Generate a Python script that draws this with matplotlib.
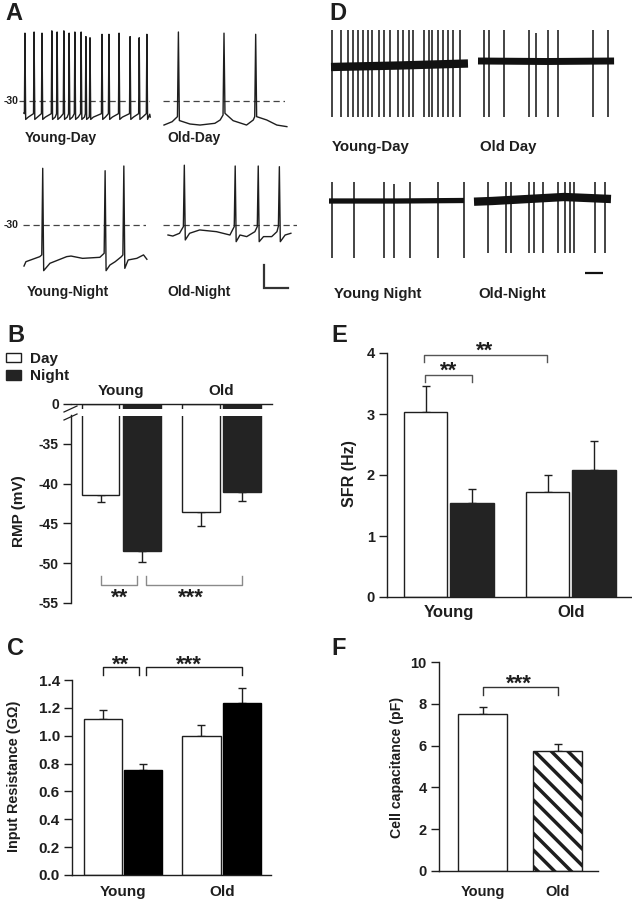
import numpy as np
import matplotlib
matplotlib.use('Agg')
import matplotlib.pyplot as plt
from matplotlib.lines import Line2D
from matplotlib.patches import Patch

plt.rcParams['font.family'] = ['Liberation Sans', 'DejaVu Sans']
plt.rcParams['font.weight'] = 'bold'
plt.rcParams['hatch.linewidth'] = 2.5

W, H = 632, 899
fig = plt.figure(figsize=(W / 100, H / 100), dpi=100)
INK = '#1e1e1e'
DARK = '#232323'

# ======================= DATA =======================
# ---- Panel A: current-clamp traces (time in s, Vm in mV) ----
a_yd_spk_t = [0.02, 0.21, 0.375, 0.58, 0.69, 0.83, 0.94, 1.06, 1.19, 1.29, 1.375,
              1.625, 1.77, 1.98, 2.21, 2.40, 2.56]
a_yd_spk_v = [29, 30, 29, 31, 30, 31, 29, 30, 30, 26, 25, 28, 28, 29, 26, 25, 28]
a_yd_thr, a_yd_ahp, a_yd_mid = -41.0, -46.0, -44.0
a_yd_start, a_yd_end = (0.0, -40.5), (2.62, -41.5)

a_od_base_t = [0.0, 0.17, 0.28, 0.32, 0.54, 0.75, 1.06, 1.17, 1.23, 1.27, 1.44, 1.72,
               1.86, 1.89, 1.93, 2.14, 2.35, 2.56]
a_od_base_v = [-50.9, -48.0, -43.6, -47.0, -50.0, -50.9, -49.4, -46.5, -42.2, -40.7,
               -47.1, -50.9, -46.5, -43.6, -43.6, -46.5, -50.9, -52.3]
a_od_spk_t = [0.30, 1.25, 1.91]
a_od_spk_v = [30, 29, 28]

a_yn_base_t = [0.0, 0.04, 0.33, 0.37, 0.41, 0.54, 0.89, 0.98, 1.22, 1.58, 1.67, 1.71,
               1.79, 1.90, 2.03, 2.06, 2.10, 2.17, 2.35, 2.49, 2.56]
a_yn_base_v = [-65.7, -61.9, -57.5, -56.0, -69.7, -63.3, -57.5, -57.0, -59.0, -58.1,
               -54.6, -69.7, -64.8, -61.9, -57.5, -56.0, -67.7, -60.4, -59.0, -56.0, -59.8]
a_yn_spk_t = [0.39, 1.69, 2.08]
a_yn_spk_v = [19.3, 17.2, 21.3]

a_on_base_t = [0.0, 0.10, 0.24, 0.32, 0.36, 0.45, 0.66, 1.01, 1.29, 1.38, 1.42, 1.50,
               1.64, 1.81, 1.86, 1.90, 1.99, 2.16, 2.27, 2.30, 2.34, 2.44, 2.56]
a_on_base_v = [-38.7, -39.6, -37.2, -31.4, -43.0, -37.2, -34.3, -35.8, -38.7, -31.4,
               -44.5, -38.7, -40.1, -35.8, -31.4, -44.5, -40.1, -40.1, -35.8, -31.0,
               -44.5, -38.7, -37.2]
a_on_spk_t = [0.34, 1.40, 1.88, 2.32]
a_on_spk_v = [22.0, 21.3, 21.3, 20.7]
a_ref_mv = -30
a_scalebar_t, a_scalebar_mv = 0.5, 20

# ---- Panel D: cell-attached recordings (time in s, amplitude a.u.) ----
d_yd_spk_t = [0.06, 0.56, 0.94, 1.22, 1.50, 1.78, 2.06, 2.28, 2.67, 2.94, 3.28, 3.72,
              4.00, 4.33, 4.56, 5.17, 5.44, 5.61, 5.94, 6.22, 6.50, 6.78, 7.17]
d_yd_up, d_yd_down = 37, -50
d_yd_base_t, d_yd_base_v = [0.0, 3.8, 7.61], [0.0, 1.5, 3.5]

d_od_spk_t = [0.35, 0.59, 1.46, 2.82, 3.22, 3.91, 4.43, 6.41, 7.21]
d_od_up = [31, 31, 31, 31, 28, 31, 31, 31, 31]
d_od_down = -56
d_od_base_t, d_od_base_v = [0.0, 3.8, 7.56], [0.0, -0.5, 0.0]

d_yn_spk_t = [0.17, 1.38, 3.06, 3.59, 4.52, 6.04, 7.52]
d_yn_up = [19, 19, 19, 17, 19, 19, 19]
d_yn_down = -57
d_yn_base_t, d_yn_base_v = [0.0, 3.8, 7.5], [0.0, 0.0, 0.5]

d_on_spk_t = [0.76, 1.78, 2.06, 3.07, 3.35, 3.82, 4.65, 5.06, 5.33, 5.57, 6.74, 7.29]
d_on_up, d_on_down = 18, -53
d_on_base_t, d_on_base_v = [0.0, 1.0, 3.5, 5.0, 7.61], [-1.7, -1.0, 1.5, 3.0, 1.0]
d_scalebar_t = 1.0

# ---- Bar panels ----
groups = ['Young', 'Old']
rmp_day = [-41.46, -43.6]
rmp_day_err = [-42.3, -45.3]
rmp_night = [-48.5, -41.0]
rmp_night_err = [-49.9, -42.2]
rmp_ticks = [0, -35, -40, -45, -50, -55]

rin_day = [1.118, 0.998]
rin_day_err = [1.185, 1.077]
rin_night = [0.754, 1.233]
rin_night_err = [0.80, 1.34]

sfr_day = [3.04, 1.72]
sfr_day_err = [3.46, 2.00]
sfr_night = [1.54, 2.08]
sfr_night_err = [1.77, 2.56]

cap_vals = [7.50, 5.72]
cap_err = [7.86, 6.06]

# significance brackets: (x_left, x_right, y_line, y_leg, y_text, x_text, label)
b_sig = [(-0.205, 0.160, -52.74, -51.61, -55.08, -0.012, '**'),
         (0.244, 1.207, -52.74, -51.61, -55.08, 0.693, '***')]
c_sig = [(-0.209, 0.157, 1.495, 1.436, 1.464, -0.026, '**'),
         (0.231, 1.206, 1.495, 1.436, 1.464, 0.671, '***')]
e_sig = [(-0.195, 0.191, 3.639, 3.525, 3.610, 0.0, '**'),
         (-0.203, 0.805, 3.967, 3.852, 3.938, 0.291, '**')]
f_sig = [(0.0, 1.0, 8.818, 8.421, 8.68, 0.49, '***')]


# ======================= HELPERS =======================
def px_axes(x0, y0, x1, y1):
    return fig.add_axes([x0 / W, 1 - y1 / H, (x1 - x0) / W, (y1 - y0) / H])


def ftext(x, y, s, **kw):
    kw.setdefault('color', INK)
    return fig.text(x / W, 1 - y / H, s, **kw)


def trace_axes(x0, y0, x1, y1, t0_px, ref_px, ref_val, pps, ppu):
    ax = px_axes(x0, y0, x1, y1)
    ax.set_xlim((x0 - t0_px) / pps, (x1 - t0_px) / pps)
    ax.set_ylim(ref_val - (y1 - ref_px) / ppu, ref_val + (ref_px - y0) / ppu)
    ax.axis('off')
    return ax


def merge(bt, bv, st, sv):
    t = np.concatenate([np.asarray(bt, float), np.asarray(st, float)])
    v = np.concatenate([np.asarray(bv, float), np.asarray(sv, float)])
    o = np.argsort(t, kind='stable')
    return t[o], v[o]


def draw_vm(ax, t, v):
    ax.axhline(a_ref_mv, color='#444444', lw=0.9, ls=(0, (5, 3)), zorder=1)
    ax.plot(t, v, color=INK, lw=1.0, clip_on=False, zorder=2)


def draw_unit(ax, bt, bv, st, up, down, band_lw):
    ax.plot(bt, bv, color='#111111', lw=band_lw, solid_capstyle='butt', zorder=2)
    ax.vlines(st, down, up, color='#111111', lw=1.1, zorder=3)


def style_bar_axes(ax, fs):
    for s in ['top', 'right']:
        ax.spines[s].set_visible(False)
    for s in ['left', 'bottom', 'top']:
        ax.spines[s].set_linewidth(1.0)
        ax.spines[s].set_color(INK)
    ax.tick_params(axis='y', direction='out', length=5.8, width=1.0, colors=INK,
                   labelsize=fs, pad=3)
    ax.tick_params(axis='x', length=0, colors=INK)


def sig(ax, specs, color, fs=16):
    for xl, xr, yl, yg, yt, xt, lab in specs:
        ax.plot([xl, xl, xr, xr], [yg, yl, yl, yg], color=color, lw=1.0,
                clip_on=False, zorder=5)
        ax.text(xt, yt, lab, ha='center', va='baseline', fontsize=fs,
                fontweight='bold', color=INK, clip_on=False)


def paired_bars(ax, x, off, width, day, day_err, night, night_err, night_color,
                bottom=0.0, down=False, cap=2.8):
    x = np.asarray(x, float)
    day = np.asarray(day); night = np.asarray(night)
    ax.bar(x - off, day - bottom, bottom=bottom, width=width, facecolor='white',
           edgecolor=INK, lw=1.0, zorder=2)
    ax.bar(x + off, night - bottom, bottom=bottom, width=width, facecolor=night_color,
           edgecolor=night_color, lw=1.0, zorder=2)
    for xs, v, e in [(x - off, day, day_err), (x + off, night, night_err)]:
        d = np.abs(np.asarray(e) - v)
        yerr = [d, np.zeros_like(d)] if down else [np.zeros_like(d), d]
        ax.errorbar(xs, v, yerr=yerr, fmt='none', ecolor=INK, elinewidth=1.0,
                    capsize=cap, capthick=1.0, zorder=1)


# ======================= PANEL A =======================
ftext(5, 20, 'A', fontsize=17, fontweight='bold', va='baseline')
PPS_A, PPU_A = 48, 1.15

ax = trace_axes(19, 25, 150, 135, 24, 101, a_ref_mv, PPS_A, PPU_A)
bt, bv = [a_yd_start[0]], [a_yd_start[1]]
for s in a_yd_spk_t:
    bt += [s - 0.012, s + 0.015, s + 0.07]
    bv += [a_yd_thr, a_yd_ahp, a_yd_mid]
bt.append(a_yd_end[0]); bv.append(a_yd_end[1])
draw_vm(ax, *merge(bt, bv, a_yd_spk_t, a_yd_spk_v))

ax = trace_axes(163, 25, 285, 135, 164, 101, a_ref_mv, PPS_A, PPU_A)
draw_vm(ax, *merge(a_od_base_t, a_od_base_v, a_od_spk_t, a_od_spk_v))

ax = trace_axes(23, 150, 146, 285, 24, 225, a_ref_mv, PPS_A, PPU_A)
draw_vm(ax, *merge(a_yn_base_t, a_yn_base_v, a_yn_spk_t, a_yn_spk_v))

ax = trace_axes(163, 150, 297, 285, 168, 225, a_ref_mv, PPS_A, PPU_A)
draw_vm(ax, *merge(a_on_base_t, a_on_base_v, a_on_spk_t, a_on_spk_v))
sb_t0, sb_v0 = 2.0, -84.8
ax.plot([sb_t0, sb_t0, sb_t0 + a_scalebar_t],
        [sb_v0 + a_scalebar_mv, sb_v0, sb_v0], color='#333333', lw=1.6,
        clip_on=False, solid_joinstyle='miter')

for y in (101, 225):
    ftext(18, y, '-30', fontsize=7.5, ha='right', va='center')
for x, y, s in [(25, 142, 'Young-Day'), (167, 142, 'Old-Day'),
                (27, 296, 'Young-Night'), (167, 296, 'Old-Night')]:
    ftext(x, y, s, fontsize=10, fontweight='bold', va='baseline')

# ======================= PANEL D =======================
ftext(329, 20, 'D', fontsize=17, fontweight='bold', va='baseline')
PPS_D = 18
ax = trace_axes(329, 25, 470, 122, 331, 67, 0, PPS_D, 1)
draw_unit(ax, d_yd_base_t, d_yd_base_v, d_yd_spk_t, d_yd_up, d_yd_down, 6.0)
ax = trace_axes(476, 25, 616, 122, 478, 61, 0, PPS_D, 1)
draw_unit(ax, d_od_base_t, d_od_base_v, d_od_spk_t, d_od_up, d_od_down, 5.0)
ax = trace_axes(326, 178, 466, 262, 329, 201, 0, PPS_D, 1)
draw_unit(ax, d_yn_base_t, d_yn_base_v, d_yn_spk_t, d_yn_up, d_yn_down, 3.8)
ax = trace_axes(472, 178, 613, 262, 474, 200, 0, PPS_D, 1)
draw_unit(ax, d_on_base_t, d_on_base_v, d_on_spk_t, d_on_up, d_on_down, 6.0)
ax.plot([6.17, 6.17 + d_scalebar_t], [-73, -73], color='#111111', lw=1.6,
        clip_on=False, solid_capstyle='butt')
for x, y, s in [(332, 151, 'Young-Day'), (480, 151, 'Old Day'),
                (334, 298, 'Young Night'), (478, 298, 'Old-Night')]:
    ftext(x, y, s, fontsize=10.8, fontweight='bold', va='baseline')

# ======================= PANEL B =======================
ftext(7, 342, 'B', fontsize=17, fontweight='bold', va='baseline')
ZERO_POS = -30          # broken axis: 0 mV drawn just above -31 mV
ax = px_axes(71, 404, 272, 603)
style_bar_axes(ax, 10)
ax.spines['bottom'].set_visible(False)
ax.spines['top'].set_visible(True)
ax.spines['left'].set_bounds(-55, -31.4)
ax.set_ylim(-55, ZERO_POS)
ax.set_xlim(-0.501, 1.504)
ax.set_yticks([ZERO_POS if v == 0 else v for v in rmp_ticks],
              [str(v) for v in rmp_ticks])
gx = np.arange(len(groups))
paired_bars(ax, gx, 0.206, 0.374, rmp_day, rmp_day_err, rmp_night, rmp_night_err,
            DARK, bottom=ZERO_POS, down=True, cap=2.9)
ax.axhspan(-31.45, -30.65, xmin=0.04, xmax=0.96, color='white', zorder=4, lw=0)
ax.xaxis.set_ticks_position('top')
ax.set_xticks(gx, groups)
ax.tick_params(axis='x', length=0, pad=4, labelsize=11)
sig(ax, b_sig, '#8a8a8a')
for (xa, ya, xb, yb) in [(64, 412, 77, 406), (64, 420, 77, 414)]:
    fig.add_artist(Line2D([xa / W, xb / W], [1 - ya / H, 1 - yb / H],
                          color=INK, lw=0.9))
leg = fig.legend(handles=[Patch(facecolor='white', edgecolor=INK, lw=1.0),
                          Patch(facecolor=DARK, edgecolor=DARK)],
                 labels=['Day', 'Night'], loc='upper left',
                 bbox_to_anchor=(6 / W, 1 - 352 / H), frameon=False, fontsize=11,
                 handlelength=0.95, handleheight=0.6, handletextpad=0.6,
                 labelspacing=0.2, borderpad=0, borderaxespad=0)
for t in leg.get_texts():
    t.set_fontweight('bold'); t.set_color(INK)
ftext(19, 511, 'RMP (mV)', fontsize=11, fontweight='bold', rotation=90,
      ha='center', va='center')

# ======================= PANEL C =======================
ftext(7, 655, 'C', fontsize=17, fontweight='bold', va='baseline')
ax = px_axes(72, 680, 271, 875)
style_bar_axes(ax, 11)
ax.set_ylim(0, 1.4)
ax.set_xlim(-0.520, 1.500)
yt = np.round(np.arange(0, 1.41, 0.2), 1)
ax.set_yticks(yt, [f'{v:.1f}' for v in yt])
paired_bars(ax, gx, 0.2056, 0.386, rin_day, rin_day_err, rin_night, rin_night_err,
            '#000000', cap=2.8)
ax.set_xticks(gx, groups)
ax.tick_params(axis='x', pad=7, labelsize=11)
sig(ax, c_sig, INK)
ftext(14, 776, 'Input Resistance (G\u03a9)', fontsize=10.4, fontweight='bold',
      rotation=90, ha='center', va='center')

# ======================= PANEL E =======================
ftext(331, 342, 'E', fontsize=17, fontweight='bold', va='baseline')
ax = px_axes(387, 353, 632, 597)
style_bar_axes(ax, 10.5)
ax.set_ylim(0, 4)
ax.set_xlim(-0.506, 1.502)
ax.set_yticks(range(0, 5))
paired_bars(ax, gx, 0.19, 0.357, sfr_day, sfr_day_err, sfr_night, sfr_night_err,
            DARK, cap=2.6)
ax.set_xticks(gx, groups)
ax.tick_params(axis='x', pad=6, labelsize=12)
sig(ax, e_sig, '#555555')
ftext(349.5, 474, 'SFR (Hz)', fontsize=11.5, fontweight='bold', rotation=90,
      ha='center', va='center')

# ======================= PANEL F =======================
ftext(331, 655, 'F', fontsize=17, fontweight='bold', va='baseline')
ax = px_axes(439, 662, 598, 871)
style_bar_axes(ax, 10.5)
ax.set_ylim(0, 10)
ax.set_xlim(-0.58, 1.54)
ax.set_yticks(range(0, 11, 2))
fx = np.arange(len(groups))
ax.bar(fx, cap_vals, width=0.653, facecolor='white', edgecolor=INK, lw=1.0,
       hatch=['', '\\\\'], zorder=2)
ax.errorbar(fx, cap_vals, yerr=[np.zeros(2), np.array(cap_err) - np.array(cap_vals)],
            fmt='none', ecolor=INK, elinewidth=1.0, capsize=2.8, capthick=1.0, zorder=1)
ax.set_xticks(fx, groups)
ax.tick_params(axis='x', pad=10, labelsize=10.5)
sig(ax, f_sig, '#333333')
ftext(397.5, 767, 'Cell capacitance (pF)', fontsize=10.2, fontweight='bold',
      rotation=90, ha='center', va='center')

fig.savefig('out.png', dpi=100)
